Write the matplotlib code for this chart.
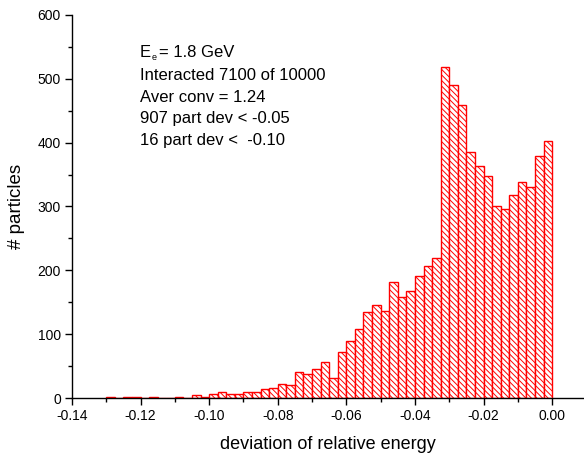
import matplotlib
matplotlib.use("Agg")
import matplotlib.pyplot as plt
import numpy as np
from matplotlib.ticker import MultipleLocator, FormatStrFormatter

plt.rcParams['font.family'] = ['Liberation Sans', 'DejaVu Sans']
plt.rcParams['hatch.color'] = 'red'
plt.rcParams['hatch.linewidth'] = 0.7

bin_width = 0.0025
bin_start = -0.13
counts = [1, 0, 1, 2, 0, 2, 0, 0, 2, 0, 4, 1,
          7, 10, 6, 6, 10, 10, 14, 16, 22, 20, 41, 37, 46, 56, 32, 72,
          90, 108, 134, 146, 136, 181, 158, 167, 191, 207, 219,
          519, 491, 459, 385, 364, 347, 300, 296, 318, 339, 330, 379, 403]
left_edges = bin_start + bin_width * np.arange(len(counts))

info_lines = ["Interacted 7100 of 10000", "Aver conv = 1.24",
              "907 part dev < -0.05", "16 part dev <  -0.10"]

W, H = 584, 454
fig = plt.figure(figsize=(W/100, H/100), dpi=100)
ax = fig.add_axes([72/W, 56/H, 1 - 72/W, (398-15)/H])

ax.bar(left_edges, counts, width=bin_width, align='edge',
       facecolor='white', edgecolor='red', linewidth=1.0, hatch='\\' * 6)

ax.set_xlim(-0.14, 0.0093)
ax.set_ylim(0, 600)
for s in ['top', 'right']:
    ax.spines[s].set_visible(False)
for s in ['left', 'bottom']:
    ax.spines[s].set_linewidth(1.0)

ax.xaxis.set_major_locator(MultipleLocator(0.02))
ax.xaxis.set_minor_locator(MultipleLocator(0.01))
ax.yaxis.set_major_locator(MultipleLocator(100))
ax.yaxis.set_minor_locator(MultipleLocator(50))
ax.xaxis.set_major_formatter(FormatStrFormatter('%.2f'))
ax.tick_params(which='major', direction='out', length=5, width=1, labelsize=10, pad=3)
ax.tick_params(which='minor', direction='out', length=3, width=1)

ax.set_xlabel('deviation of relative energy', fontsize=13, labelpad=9)
ax.set_ylabel('# particles', fontsize=13.5, labelpad=9)

def px(x, y):
    return x / W, (H - y) / H

fig.text(*px(140, 56.7), 'E', fontsize=12, va='baseline', ha='left')
fig.text(*px(152, 59.5), 'e', fontsize=6.5, va='baseline', ha='left')
fig.text(*px(159, 56.7), '= 1.8 GeV', fontsize=12, va='baseline', ha='left')
for i, line in enumerate(info_lines):
    fig.text(*px(140, 80 + 21.6 * i), line, fontsize=12,
             va='baseline', ha='left')

fig.savefig('out.png', dpi=100)
